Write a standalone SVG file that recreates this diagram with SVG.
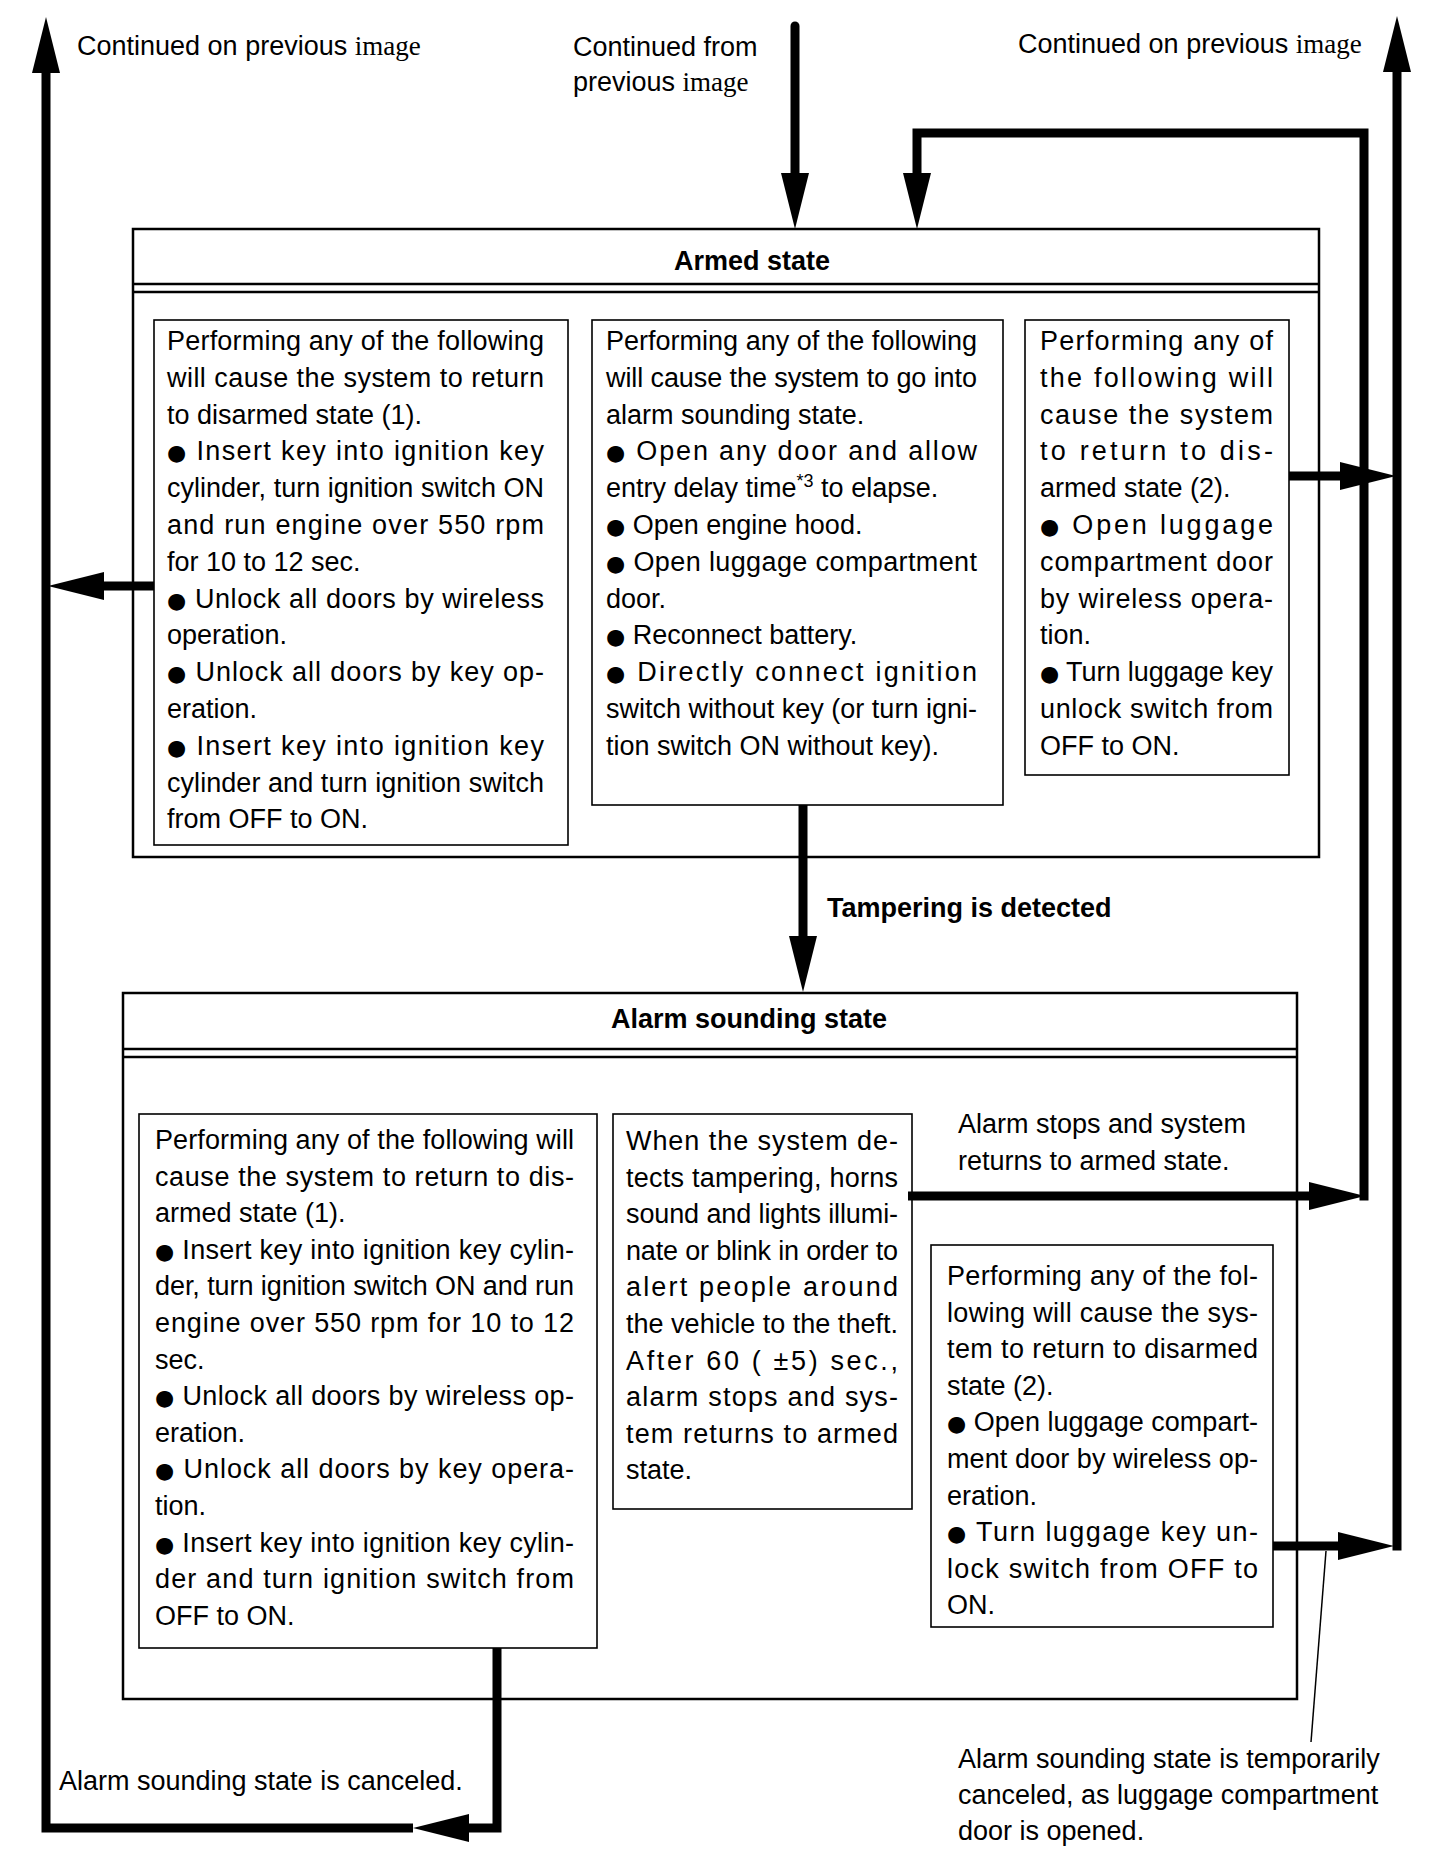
<svg xmlns="http://www.w3.org/2000/svg" width="1456" height="1856" viewBox="0 0 1456 1856">
<style>
.t{font-family:"Liberation Sans",Arial,Helvetica,sans-serif;font-size:27px;fill:#000}
.bd{font-weight:bold}
.sf{font-family:"Liberation Serif","Times New Roman",serif}
.bu{font-family:"DejaVu Sans",sans-serif;font-size:22px}
.sup{font-size:18px}
.outer{fill:#fff;stroke:#000;stroke-width:2.5}
.inner{fill:none;stroke:#000;stroke-width:1.6}
.dl{stroke:#000;stroke-width:2.5}
.conn{fill:none;stroke:#000;stroke-width:9;stroke-linejoin:miter}
.lead{fill:none;stroke:#000;stroke-width:1.5}
</style>
<defs>
<marker id="ah" viewBox="0 0 56 28" refX="0" refY="14" markerWidth="56" markerHeight="28" orient="auto" markerUnits="userSpaceOnUse"><path d="M0,0 L56,14 L0,28 z" fill="#000"/></marker>
</defs>
<rect width="1456" height="1856" fill="#fff"/>

<g id="labels-top">
<text class="t" x="77" y="55">Continued on previous <tspan class="sf">image</tspan></text>
<text class="t" x="573" y="56">Continued from</text>
<text class="t" x="573" y="91">previous <tspan class="sf">image</tspan></text>
<text class="t" x="1018" y="53">Continued on previous <tspan class="sf">image</tspan></text>
</g>

<g id="armed-state">
<rect class="outer" x="133" y="229" width="1186" height="628"/>
<line class="dl" x1="133" y1="284" x2="1319" y2="284"/>
<line class="dl" x1="133" y1="292" x2="1319" y2="292"/>
<text class="t bd" x="752" y="270" text-anchor="middle">Armed state</text>
</g>

<g id="armed-disarm1">
<rect class="inner" x="154" y="320" width="414" height="525"/>
<text class="t" x="167" y="350" textLength="377" lengthAdjust="spacing">Performing any of the following</text>
<text class="t" x="167" y="386.8" textLength="377" lengthAdjust="spacing">will cause the system to return</text>
<text class="t" x="167" y="423.6">to disarmed state (1).</text>
<text class="t" x="167" y="460.4" textLength="377" lengthAdjust="spacing"><tspan class="bu">●</tspan> Insert key into ignition key</text>
<text class="t" x="167" y="497.2" textLength="377" lengthAdjust="spacing">cylinder, turn ignition switch ON</text>
<text class="t" x="167" y="534" textLength="377" lengthAdjust="spacing">and run engine over 550 rpm</text>
<text class="t" x="167" y="570.8">for 10 to 12 sec.</text>
<text class="t" x="167" y="607.6" textLength="377" lengthAdjust="spacing"><tspan class="bu">●</tspan> Unlock all doors by wireless</text>
<text class="t" x="167" y="644.4">operation.</text>
<text class="t" x="167" y="681.2" textLength="377" lengthAdjust="spacing"><tspan class="bu">●</tspan> Unlock all doors by key op-</text>
<text class="t" x="167" y="718">eration.</text>
<text class="t" x="167" y="754.8" textLength="377" lengthAdjust="spacing"><tspan class="bu">●</tspan> Insert key into ignition key</text>
<text class="t" x="167" y="791.6" textLength="377" lengthAdjust="spacing">cylinder and turn ignition switch</text>
<text class="t" x="167" y="828.4">from OFF to ON.</text>
</g>

<g id="armed-alarm">
<rect class="inner" x="592" y="320" width="411" height="485"/>
<text class="t" x="606" y="350" textLength="371" lengthAdjust="spacing">Performing any of the following</text>
<text class="t" x="606" y="386.8" textLength="371" lengthAdjust="spacing">will cause the system to go into</text>
<text class="t" x="606" y="423.6">alarm sounding state.</text>
<text class="t" x="606" y="460.4" textLength="371" lengthAdjust="spacing"><tspan class="bu">●</tspan> Open any door and allow</text>
<text class="t" x="606" y="497.2">entry delay time<tspan class="sup" dy="-10">*3</tspan><tspan dy="10"> to elapse.</tspan></text>
<text class="t" x="606" y="534"><tspan class="bu">●</tspan> Open engine hood.</text>
<text class="t" x="606" y="570.8" textLength="371" lengthAdjust="spacing"><tspan class="bu">●</tspan> Open luggage compartment</text>
<text class="t" x="606" y="607.6">door.</text>
<text class="t" x="606" y="644.4"><tspan class="bu">●</tspan> Reconnect battery.</text>
<text class="t" x="606" y="681.2" textLength="371" lengthAdjust="spacing"><tspan class="bu">●</tspan> Directly connect ignition</text>
<text class="t" x="606" y="718" textLength="371" lengthAdjust="spacing">switch without key (or turn igni-</text>
<text class="t" x="606" y="754.8">tion switch ON without key).</text>
</g>

<g id="armed-disarm2">
<rect class="inner" x="1025" y="320" width="264" height="455"/>
<text class="t" x="1040" y="350" textLength="233" lengthAdjust="spacing">Performing any of</text>
<text class="t" x="1040" y="386.8" textLength="233" lengthAdjust="spacing">the following will</text>
<text class="t" x="1040" y="423.6" textLength="233" lengthAdjust="spacing">cause the system</text>
<text class="t" x="1040" y="460.4" textLength="233" lengthAdjust="spacing">to return to dis-</text>
<text class="t" x="1040" y="497.2">armed state (2).</text>
<text class="t" x="1040" y="534" textLength="233" lengthAdjust="spacing"><tspan class="bu">●</tspan> Open luggage</text>
<text class="t" x="1040" y="570.8" textLength="233" lengthAdjust="spacing">compartment door</text>
<text class="t" x="1040" y="607.6" textLength="233" lengthAdjust="spacing">by wireless opera-</text>
<text class="t" x="1040" y="644.4">tion.</text>
<text class="t" x="1040" y="681.2" textLength="233" lengthAdjust="spacing"><tspan class="bu">●</tspan> Turn luggage key</text>
<text class="t" x="1040" y="718" textLength="233" lengthAdjust="spacing">unlock switch from</text>
<text class="t" x="1040" y="754.8">OFF to ON.</text>
</g>

<g id="alarm-state">
<rect class="outer" x="123" y="993" width="1174" height="706"/>
<line class="dl" x1="123" y1="1049" x2="1297" y2="1049"/>
<line class="dl" x1="123" y1="1057" x2="1297" y2="1057"/>
<text class="t bd" x="749" y="1028" text-anchor="middle">Alarm sounding state</text>
</g>

<g id="alarm-disarm1">
<rect class="inner" x="139" y="1114" width="458" height="534"/>
<text class="t" x="155" y="1149" textLength="419" lengthAdjust="spacing">Performing any of the following will</text>
<text class="t" x="155" y="1185.6" textLength="419" lengthAdjust="spacing">cause the system to return to dis-</text>
<text class="t" x="155" y="1222.2">armed state (1).</text>
<text class="t" x="155" y="1258.8" textLength="419" lengthAdjust="spacing"><tspan class="bu">●</tspan>  Insert key into ignition key cylin-</text>
<text class="t" x="155" y="1295.4" textLength="419" lengthAdjust="spacing">der, turn ignition switch ON and run</text>
<text class="t" x="155" y="1332" textLength="419" lengthAdjust="spacing">engine over 550 rpm for 10 to 12</text>
<text class="t" x="155" y="1368.6">sec.</text>
<text class="t" x="155" y="1405.2" textLength="419" lengthAdjust="spacing"><tspan class="bu">●</tspan> Unlock all doors by wireless op-</text>
<text class="t" x="155" y="1441.8">eration.</text>
<text class="t" x="155" y="1478.4" textLength="419" lengthAdjust="spacing"><tspan class="bu">●</tspan> Unlock all doors by key opera-</text>
<text class="t" x="155" y="1515">tion.</text>
<text class="t" x="155" y="1551.6" textLength="419" lengthAdjust="spacing"><tspan class="bu">●</tspan> Insert key into ignition key cylin-</text>
<text class="t" x="155" y="1588.2" textLength="419" lengthAdjust="spacing">der and turn ignition switch from</text>
<text class="t" x="155" y="1624.8">OFF to ON.</text>
</g>

<g id="alarm-sounding">
<rect class="inner" x="613" y="1114" width="299" height="395"/>
<text class="t" x="626" y="1150" textLength="272" lengthAdjust="spacing">When the system de-</text>
<text class="t" x="626" y="1186.6" textLength="272" lengthAdjust="spacing">tects tampering, horns</text>
<text class="t" x="626" y="1223.2" textLength="272" lengthAdjust="spacing">sound and lights illumi-</text>
<text class="t" x="626" y="1259.8" textLength="272" lengthAdjust="spacing">nate or blink in order to</text>
<text class="t" x="626" y="1296.4" textLength="272" lengthAdjust="spacing">alert people around</text>
<text class="t" x="626" y="1333" textLength="272" lengthAdjust="spacing">the vehicle to the theft.</text>
<text class="t" x="626" y="1369.6" textLength="272" lengthAdjust="spacing">After 60 ( ±5) sec.,</text>
<text class="t" x="626" y="1406.2" textLength="272" lengthAdjust="spacing">alarm stops and sys-</text>
<text class="t" x="626" y="1442.8" textLength="272" lengthAdjust="spacing">tem returns to armed</text>
<text class="t" x="626" y="1479.4">state.</text>
</g>

<g id="alarm-disarm2">
<rect class="inner" x="931" y="1245" width="342" height="382"/>
<text class="t" x="947" y="1285" textLength="311" lengthAdjust="spacing">Performing any of the fol-</text>
<text class="t" x="947" y="1321.6" textLength="311" lengthAdjust="spacing">lowing will cause the sys-</text>
<text class="t" x="947" y="1358.2" textLength="311" lengthAdjust="spacing">tem to return to disarmed</text>
<text class="t" x="947" y="1394.8">state (2).</text>
<text class="t" x="947" y="1431.4" textLength="311" lengthAdjust="spacing"><tspan class="bu">●</tspan> Open luggage compart-</text>
<text class="t" x="947" y="1468" textLength="311" lengthAdjust="spacing">ment door by wireless op-</text>
<text class="t" x="947" y="1504.6">eration.</text>
<text class="t" x="947" y="1541.2" textLength="311" lengthAdjust="spacing"><tspan class="bu">●</tspan> Turn luggage key un-</text>
<text class="t" x="947" y="1577.8" textLength="311" lengthAdjust="spacing">lock switch from OFF to</text>
<text class="t" x="947" y="1614.4">ON.</text>
</g>

<g id="connectors">
<path class="conn" d="M795,26 V173" stroke-linecap="round" marker-end="url(#ah)"/>
<path class="conn" d="M908,1196 H1309" marker-end="url(#ah)"/>
<path class="conn" d="M1364,1200.5 V133 H917 V173" marker-end="url(#ah)"/>
<path class="conn" d="M154,586 H104" marker-end="url(#ah)"/>
<path class="conn" d="M1289,476 H1340" marker-end="url(#ah)"/>
<path class="conn" d="M803,805 V936" marker-end="url(#ah)"/>
<path class="conn" d="M497,1648 V1828 H469" marker-end="url(#ah)"/>
<path class="conn" d="M413,1828 H46 V73" marker-end="url(#ah)"/>
<path class="conn" d="M1273,1546 H1338" marker-end="url(#ah)"/>
<path class="conn" d="M1397,1550.5 V72" marker-end="url(#ah)"/>
<path class="lead" d="M1326,1551 L1311,1742"/>
</g>

<g id="labels-edges">
<text class="t bd" x="827" y="917">Tampering is detected</text>
<text class="t" x="958" y="1133">Alarm stops and system</text>
<text class="t" x="958" y="1170">returns to armed state.</text>
<text class="t" x="59" y="1790">Alarm sounding state is canceled.</text>
<text class="t" x="958" y="1768">Alarm sounding state is temporarily</text>
<text class="t" x="958" y="1804">canceled, as luggage compartment</text>
<text class="t" x="958" y="1840">door is opened.</text>
</g>
</svg>
